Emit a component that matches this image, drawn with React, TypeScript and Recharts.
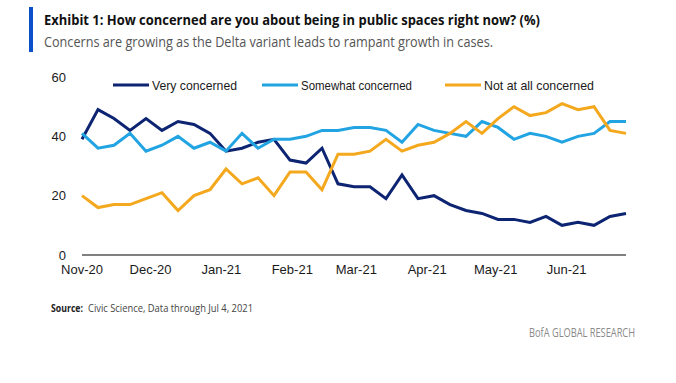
import { LineChart, Line, XAxis, YAxis } from "recharts"

// weekly survey dates
const weeks = [
  "2020-11-01", "2020-11-08", "2020-11-15", "2020-11-22", "2020-11-29",
  "2020-12-06", "2020-12-13", "2020-12-20", "2020-12-27",
  "2021-01-03", "2021-01-10", "2021-01-17", "2021-01-24", "2021-01-31",
  "2021-02-07", "2021-02-14", "2021-02-21", "2021-02-28",
  "2021-03-07", "2021-03-14", "2021-03-21", "2021-03-28",
  "2021-04-04", "2021-04-11", "2021-04-18", "2021-04-25",
  "2021-05-02", "2021-05-09", "2021-05-16", "2021-05-23", "2021-05-30",
  "2021-06-06", "2021-06-13", "2021-06-20", "2021-06-27",
]

const veryConcerned = [
  39, 49, 46, 42, 46, 42, 45, 44, 41, 35, 36, 38, 39, 32, 31, 36, 24, 23,
  23, 19, 27, 19, 20, 17, 15, 14, 12, 12, 11, 13, 10, 11, 10, 13, 14,
]
const somewhatConcerned = [
  41, 36, 37, 41, 35, 37, 40, 36, 38, 35, 41, 36, 39, 39, 40, 42, 42, 43,
  43, 42, 38, 44, 42, 41, 40, 45, 43, 39, 41, 40, 38, 40, 41, 45, 45,
]
const notConcerned = [
  20, 16, 17, 17, 19, 21, 15, 20, 22, 29, 24, 26, 20, 28, 28, 22, 34, 34,
  35, 39, 35, 37, 38, 41, 45, 41, 46, 50, 47, 48, 51, 49, 50, 42, 41,
]

const monthTicks = [
  "2020-11-01", "2020-12-01", "2021-01-01", "2021-02-01",
  "2021-03-01", "2021-04-01", "2021-05-01", "2021-06-01",
]
const monthLabels = ["Nov-20", "Dec-20", "Jan-21", "Feb-21", "Mar-21", "Apr-21", "May-21", "Jun-21"]
const yTicks = [0, 20, 40, 60]

const NAVY = "#0c2472"
const SKY = "#22a4e2"
const GOLD = "#f4a81d"
const FONT = "'Liberation Sans', Arial, sans-serif"
const NARROW = "'Liberation Sans Narrow', 'Open Sans', sans-serif"

const data = weeks.map((w, i) => ({
  t: Date.parse(w),
  very: veryConcerned[i],
  somewhat: somewhatConcerned[i],
  notAtAll: notConcerned[i],
}))

const tickValues = monthTicks.map((m) => Date.parse(m))
const labelFor = (v: number) => monthLabels[tickValues.indexOf(v)] ?? ""

const legendItems = [
  { label: "Very concerned", color: NAVY, x: 113, len: 85 },
  { label: "Somewhat concerned", color: SKY, x: 262, len: 111 },
  { label: "Not at all concerned", color: GOLD, x: 445, len: 110 },
]

export default function App() {
  return (
    <div
      style={{
        position: "absolute",
        left: 0,
        top: 0,
        width: 676,
        height: 383,
        background: "#fff",
        fontFamily: FONT,
      }}
    >
      <LineChart
        width={676}
        height={383}
        data={data}
        margin={{ top: 77, right: 50, bottom: 108, left: 42 }}
      >
        <XAxis
          dataKey="t"
          type="number"
          scale="linear"
          domain={[tickValues[0], Date.parse(weeks[weeks.length - 1])]}
          ticks={tickValues}
          tickFormatter={labelFor}
          interval={0}
          height={20}
          tickLine={false}
          tickMargin={4}
          axisLine={{ stroke: "#808080", strokeWidth: 2 }}
          tick={{ fontSize: 13, fill: "#1a1a1a", fontFamily: FONT }}
        />
        <YAxis
          type="number"
          domain={[0, 60]}
          ticks={yTicks}
          width={40}
          axisLine={false}
          tickLine={false}
          tickSize={6}
          tickMargin={10}
          tick={{ fontSize: 13, fill: "#1a1a1a", fontFamily: FONT }}
        />
        <Line dataKey="very" stroke={NAVY} strokeWidth={3} dot={false} isAnimationActive={false} />
        <Line dataKey="somewhat" stroke={SKY} strokeWidth={3} dot={false} isAnimationActive={false} />
        <Line dataKey="notAtAll" stroke={GOLD} strokeWidth={3} dot={false} isAnimationActive={false} />
      </LineChart>

      <svg
        width={676}
        height={383}
        style={{ position: "absolute", left: 0, top: 0, pointerEvents: "none" }}
      >
        <rect x={29} y={7} width={4} height={45} fill="#0a50c8" />
        <text
          x={44}
          y={25}
          fontFamily={NARROW}
          fontWeight="bold"
          fontSize={15}
          fill="#111"
          textLength={496}
          lengthAdjust="spacingAndGlyphs"
        >
          Exhibit 1: How concerned are you about being in public spaces right now? (%)
        </text>
        <text
          x={44}
          y={47}
          fontFamily={NARROW}
          fontSize={15}
          fill="#555"
          textLength={449}
          lengthAdjust="spacingAndGlyphs"
        >
          Concerns are growing as the Delta variant leads to rampant growth in cases.
        </text>

        {legendItems.map((it) => (
          <g key={it.label}>
            <line x1={it.x} x2={it.x + 36} y1={85} y2={85} stroke={it.color} strokeWidth={3} />
            <text
              x={it.x + 39}
              y={90}
              fontSize={13.5}
              fill="#1a1a1a"
              fontFamily={FONT}
              textLength={it.len}
              lengthAdjust="spacingAndGlyphs"
            >
              {it.label}
            </text>
          </g>
        ))}

        <text
          x={51}
          y={312}
          fontFamily={NARROW}
          fontWeight="bold"
          fontSize={10}
          fill="#222"
          textLength={32}
          lengthAdjust="spacingAndGlyphs"
        >
          Source:
        </text>
        <text
          x={88}
          y={312}
          fontFamily={NARROW}
          fontSize={11}
          fill="#444"
          textLength={165}
          lengthAdjust="spacingAndGlyphs"
        >
          Civic Science, Data through Jul 4, 2021
        </text>
        <text
          x={529}
          y={337}
          fontFamily={NARROW}
          fontSize={12}
          fill="#8a8a8a"
          textLength={106}
          lengthAdjust="spacingAndGlyphs"
        >
          BofA GLOBAL RESEARCH
        </text>
      </svg>
    </div>
  )
}
